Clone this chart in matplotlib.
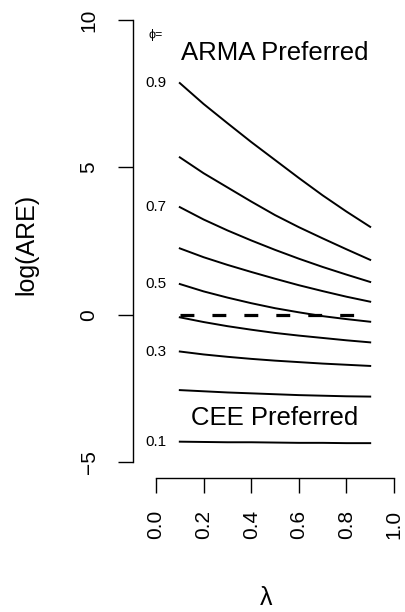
import matplotlib
matplotlib.use("Agg")
import matplotlib.pyplot as plt

plt.rcParams['font.family'] = ['Liberation Sans', 'DejaVu Sans']
plt.rcParams['lines.scale_dashes'] = False

# lambda grid and log(ARE) curves for each phi
lam = [0.1, 0.2, 0.3, 0.4, 0.5, 0.6, 0.7, 0.8, 0.9]
phi = [0.1, 0.2, 0.3, 0.4, 0.5, 0.6, 0.7, 0.8, 0.9]
are_01 = [-4.31, -4.32, -4.33, -4.33, -4.34, -4.35, -4.35, -4.36, -4.36]
are_02 = [-2.56, -2.60, -2.64, -2.67, -2.70, -2.73, -2.75, -2.77, -2.78]
are_03 = [-1.25, -1.35, -1.43, -1.50, -1.56, -1.61, -1.66, -1.70, -1.74]
are_04 = [-0.09, -0.25, -0.39, -0.51, -0.62, -0.71, -0.79, -0.87, -0.94]
are_05 = [1.04, 0.79, 0.58, 0.39, 0.22, 0.08, -0.05, -0.15, -0.24]
are_06 = [2.25, 1.95, 1.69, 1.45, 1.22, 1.00, 0.80, 0.61, 0.44]
are_07 = [3.65, 3.23, 2.86, 2.52, 2.20, 1.90, 1.62, 1.36, 1.11]
are_08 = [5.34, 4.80, 4.32, 3.84, 3.38, 2.97, 2.59, 2.22, 1.86]
are_09 = [7.86, 7.15, 6.50, 5.86, 5.25, 4.64, 4.05, 3.50, 2.98]
curves = [are_01, are_02, are_03, are_04, are_05, are_06, are_07, are_08, are_09]
labelled = ['0.1', '0.3', '0.5', '0.7', '0.9']

W, H = 405, 612
fig = plt.figure(figsize=(W / 100, H / 100), dpi=100)

# axes box in pixels: left=133, right=400, top=10, bottom=478
ax = fig.add_axes([133 / W, 1 - 478 / H, (400 - 133) / W, (478 - 10) / H])
ax.set_xlim(-23 / 238, 244 / 238)
ax.set_ylim(-5 - 16 / 29.47, 10 + 10 / 29.47)

for c in curves:
    ax.plot(lam, c, color='black', lw=1.4)

# ARE = 1 reference line
ax.plot([lam[0], lam[-1]], [0, 0], color='black', lw=2.3,
        dashes=(10, 13), dash_capstyle='butt')

for p, c in zip(phi, curves):
    lab = '%.1f' % p
    if lab in labelled:
        ax.text(0.0, c[0], lab, ha='center', va='center', fontsize=11)
ax.text(0.0, 9.5, 'ϕ=', ha='center', va='center', fontsize=9)

ax.text(0.5, 8.64, 'ARMA Preferred', ha='center', va='baseline', fontsize=18.5)
ax.text(0.5, -3.74, 'CEE Preferred', ha='center', va='baseline', fontsize=18.5)

for s in ['top', 'right']:
    ax.spines[s].set_visible(False)
ax.spines['left'].set_bounds(-5, 10)
ax.spines['bottom'].set_bounds(0, 1)
ax.spines['left'].set_linewidth(1.0)
ax.spines['bottom'].set_linewidth(1.0)

ax.set_yticks([-5, 0, 5, 10])
ax.set_yticklabels(['\u22125', '0', '5', '10'], rotation=90, va='center')
ax.set_xticks([0.0, 0.2, 0.4, 0.6, 0.8, 1.0])
ax.set_xticklabels(['0.0', '0.2', '0.4', '0.6', '0.8', '1.0'], rotation=90)
ax.tick_params(axis='both', direction='out', length=10.8, width=1.0,
               labelsize=15)
ax.tick_params(axis='y', pad=14)
ax.tick_params(axis='x', pad=12)

ax.set_ylabel('log(ARE)', fontsize=18, labelpad=30)
ax.set_xlabel('λ', fontsize=18, labelpad=34)

fig.savefig('out.png', dpi=100)
